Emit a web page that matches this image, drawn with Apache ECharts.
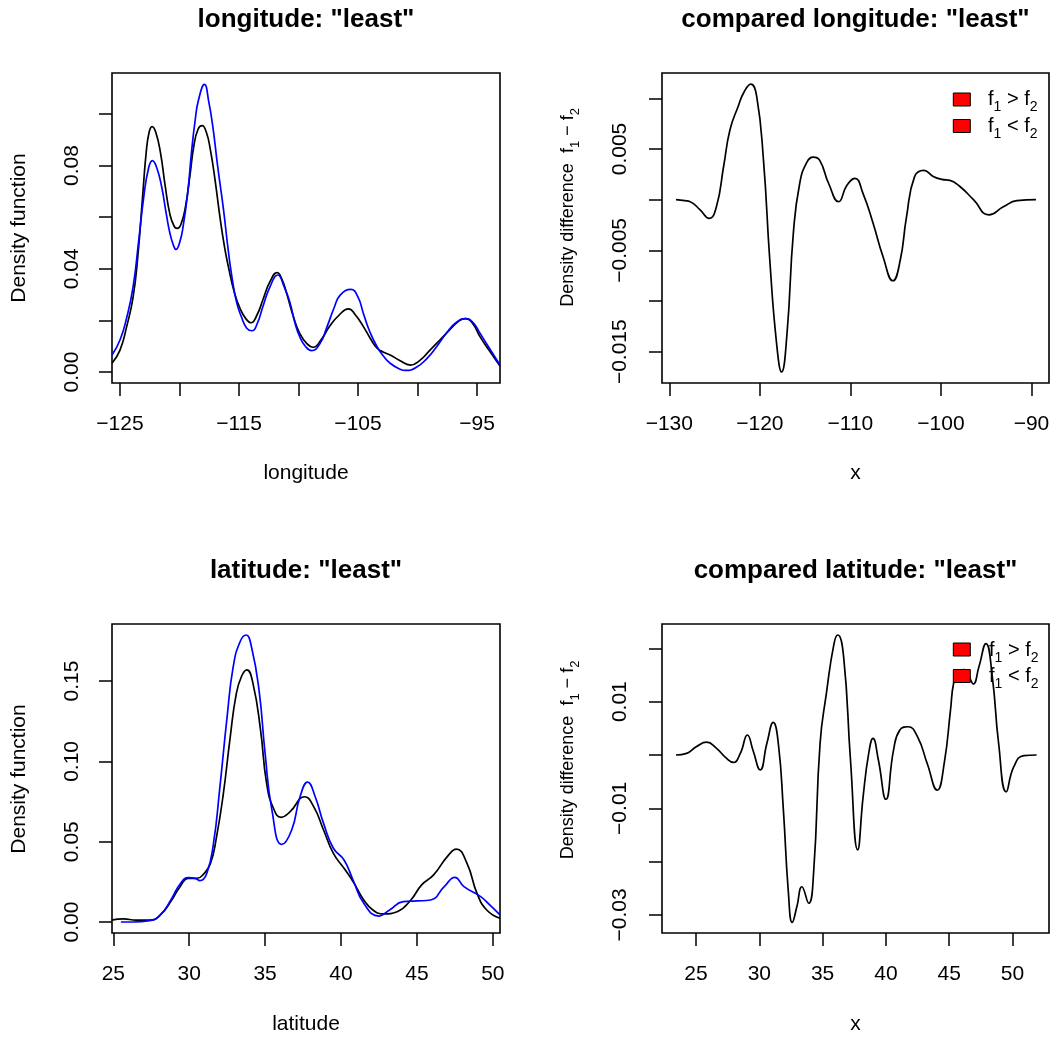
<!DOCTYPE html>
<html>
<head>
<meta charset="utf-8">
<script src="https://cdn.jsdelivr.net/npm/echarts@6/dist/echarts.min.js"></script>
<style>
  html, body { margin: 0; padding: 0; background: #ffffff; }
  #chart { width: 1053px; height: 1040px; }
</style>
</head>
<body>
<div id="chart"></div>
<script>
// ---- longitude: density of all records (black) and of the "least" group (blue)
const lonAllX   = [-125.67, -125.0, -124.44, -123.9, -123.5, -123.1, -122.8, -122.55, -122.3, -122.0, -121.6, -121.2, -120.8, -120.45, -120.2, -119.9, -119.5, -119.1, -118.8, -118.45, -118.1, -117.75, -117.4, -117.0, -116.6, -116.2, -115.9, -115.4, -114.9, -114.4, -114.0, -113.5, -113.0, -112.4, -111.8, -111.4, -111.0, -110.4, -109.9, -109.3, -108.75, -108.1, -107.4, -106.6, -105.8, -105.2, -104.55, -103.9, -103.4, -102.9, -102.3, -101.5, -100.6, -99.8, -98.95, -98.1, -97.3, -96.6, -96.0, -95.4, -94.75, -94.0, -93.07];
const lonAllY   = [0.0034, 0.0085, 0.0176, 0.029, 0.045, 0.068, 0.085, 0.093, 0.0951, 0.093, 0.085, 0.072, 0.061, 0.0565, 0.0557, 0.057, 0.064, 0.077, 0.0875, 0.094, 0.0955, 0.093, 0.086, 0.074, 0.060, 0.048, 0.041, 0.031, 0.0245, 0.0205, 0.0191, 0.022, 0.0279, 0.035, 0.0385, 0.036, 0.0305, 0.021, 0.015, 0.011, 0.0096, 0.0125, 0.0176, 0.022, 0.0245, 0.022, 0.0176, 0.0125, 0.0092, 0.0078, 0.0066, 0.0045, 0.0027, 0.0045, 0.0085, 0.0125, 0.0163, 0.0195, 0.0207, 0.019, 0.0137, 0.0085, 0.0023];
const lonLeastX = [-125.67, -125.0, -124.44, -123.9, -123.45, -123.0, -122.6, -122.28, -121.9, -121.5, -121.1, -120.8, -120.5, -120.3, -120.0, -119.7, -119.3, -119.0, -118.7, -118.4, -117.9, -117.55, -117.2, -116.8, -116.3, -115.9, -115.6, -115.2, -114.8, -114.35, -113.9, -113.45, -113.0, -112.4, -111.75, -111.2, -110.7, -110.3, -109.9, -109.4, -108.9, -108.2, -107.6, -107.0, -106.5, -105.6, -105.0, -104.55, -104.0, -103.4, -102.8, -102.3, -101.6, -101.0, -100.1, -99.2, -98.4, -97.55, -96.8, -95.95, -95.3, -94.75, -94.0, -93.07];
const lonLeastY = [0.0066, 0.0124, 0.021, 0.033, 0.050, 0.068, 0.079, 0.0819, 0.079, 0.0718, 0.061, 0.0537, 0.049, 0.0475, 0.050, 0.0563, 0.070, 0.0848, 0.097, 0.1055, 0.1115, 0.105, 0.0951, 0.080, 0.0628, 0.047, 0.037, 0.027, 0.0214, 0.017, 0.016, 0.019, 0.0253, 0.033, 0.0376, 0.033, 0.0266, 0.019, 0.0137, 0.0098, 0.0083, 0.011, 0.0176, 0.025, 0.0298, 0.032, 0.029, 0.0227, 0.0155, 0.0098, 0.0058, 0.0034, 0.0014, 0.0006, 0.0018, 0.0053, 0.0098, 0.0152, 0.019, 0.0207, 0.019, 0.015, 0.0095, 0.0027];

// ---- longitude: density difference f1 - f2
const lonDiffX = [-129.26, -128.3, -127.7, -126.6, -125.6, -124.8, -124.0, -123.3, -122.4, -121.76, -121.0, -120.35, -119.6, -118.9, -118.15, -117.6, -117.0, -116.3, -115.6, -114.8, -114.1, -113.4, -112.4, -111.3, -110.4, -109.5, -108.6, -107.5, -106.4, -105.3, -104.5, -103.8, -102.9, -101.9, -100.85, -99.9, -99.0, -97.9, -96.4, -94.7, -93.1, -91.6, -89.5];
const lonDiffY = [0, -0.0001, -0.0002, -0.0010, -0.00184, -0.0007, 0.0033, 0.0069, 0.0092, 0.0106, 0.0114, 0.0102, 0.0039, -0.0060, -0.0142, -0.0170, -0.0132, -0.0033, 0.0016, 0.0037, 0.0042, 0.0039, 0.0016, -0.0002, 0.0014, 0.0021, 0.0006, -0.0023, -0.0056, -0.0080, -0.0060, -0.0017, 0.0023, 0.0029, 0.0023, 0.0020, 0.0019, 0.0013, 0.0, -0.0015, -0.0007, -0.0001, 0];

// ---- latitude: density of all records (black) and of the "least" group (blue)
const latAllX   = [24.89, 25.66, 26.5, 27.4, 28.1, 28.85, 29.4, 29.95, 30.5, 30.9, 31.4, 31.8, 32.25, 32.7, 33.1, 33.45, 33.8, 34.2, 34.7, 35.1, 35.55, 36.05, 36.65, 37.6, 38.2, 38.85, 39.5, 40.2, 40.8, 41.5, 42.1, 42.8, 43.7, 44.6, 45.3, 46.1, 47.0, 47.6, 48.3, 48.96, 49.6, 50.47];
const latAllY   = [0.0012, 0.0019, 0.0012, 0.0012, 0.0044, 0.0137, 0.022, 0.0272, 0.0272, 0.0293, 0.0365, 0.053, 0.080, 0.115, 0.142, 0.153, 0.157, 0.1486, 0.1195, 0.0863, 0.0708, 0.0652, 0.0687, 0.078, 0.0718, 0.0573, 0.0427, 0.0334, 0.0251, 0.0137, 0.0075, 0.0050, 0.0064, 0.0137, 0.023, 0.0293, 0.0407, 0.0454, 0.0365, 0.0178, 0.0075, 0.0023];
const latLeastX = [25.5, 26.3, 27.4, 28.1, 28.85, 29.4, 29.95, 30.4, 30.7, 31.15, 31.6, 32.0, 32.5, 32.9, 33.35, 33.75, 34.1, 34.6, 35.0, 35.45, 36.1, 36.75, 37.3, 37.8, 38.3, 38.85, 39.5, 40.2, 40.8, 41.5, 42.5, 43.2, 44.1, 45.0, 45.9, 46.8, 47.5, 48.1, 49.2, 49.8, 50.47];
const latLeastY = [0, 0, 0.0008, 0.0044, 0.0147, 0.0237, 0.0276, 0.0272, 0.0257, 0.030, 0.049, 0.082, 0.128, 0.159, 0.1745, 0.1787, 0.1714, 0.1444, 0.105, 0.0697, 0.0483, 0.0573, 0.078, 0.0871, 0.078, 0.0614, 0.0459, 0.0386, 0.026, 0.0116, 0.0037, 0.0075, 0.0127, 0.0131, 0.0137, 0.022, 0.0278, 0.022, 0.0158, 0.0106, 0.0044];

// ---- latitude: density difference f1 - f2
const latDiffX = [23.42, 24.26, 25.05, 25.84, 26.6, 27.4, 27.95, 28.5, 29.06, 29.5, 30.07, 30.6, 31.1, 31.5, 31.9, 32.3, 32.6, 32.97, 33.36, 33.9, 34.3, 34.8, 35.3, 35.9, 36.2, 36.66, 37.2, 37.77, 38.2, 38.64, 38.98, 39.4, 40.0, 40.6, 41.1, 41.75, 42.5, 43.26, 44.05, 44.6, 45.1, 45.35, 45.7, 46.2, 46.6, 46.9, 47.35, 47.9, 48.4, 48.9, 49.5, 50.1, 50.9, 51.9];
const latDiffY = [0, 0.0003, 0.0016, 0.0024, 0.0013, -0.0006, -0.0014, 0.0003, 0.00375, 0.0009, -0.0028, 0.0022, 0.0061, 0.0022, -0.0103, -0.0259, -0.0314, -0.0284, -0.0247, -0.0278, -0.0216, 0.0022, 0.0116, 0.0209, 0.0225, 0.0184, -0.0009, -0.0178, -0.0078, 0.0003, 0.0031, -0.0009, -0.0083, 0.0009, 0.0047, 0.0053, 0.0034, -0.0016, -0.0066, -0.0016, 0.0084, 0.0135, 0.0155, 0.016, 0.0145, 0.0133, 0.0166, 0.0209, 0.0147, 0.0022, -0.0069, -0.0022, -0.0001, 0];

// ---- ticks and labels
const lonXTicks      = [-125, -120, -115, -110, -105, -100, -95];
const lonXLabels     = [-125, -115, -105, -95];
const lonYTicks      = [0, 0.02, 0.04, 0.06, 0.08, 0.10];
const lonYLabels     = [0, 0.04, 0.08];
const lonDiffXTicks  = [-130, -120, -110, -100, -90];
const lonDiffYTicks  = [-0.015, -0.01, -0.005, 0, 0.005, 0.01];
const lonDiffYLabels = [-0.015, -0.005, 0.005];
const latXTicks      = [25, 30, 35, 40, 45, 50];
const latYTicks      = [0, 0.05, 0.10, 0.15];
const latDiffYTicks  = [-0.03, -0.02, -0.01, 0, 0.01, 0.02];
const latDiffYLabels = [-0.03, -0.01, 0.01];

const FONT = "'Liberation Sans', Arial, Helvetica, sans-serif";
const pairs = (xs, ys) => xs.map((x, i) => [x, ys[i]]);
const fmt = digits => v => (v < 0 ? '\u2212' : '') + Math.abs(v).toFixed(digits);

function xAxisOf(idx, min, max, ticks, labels, digits) {
  return {
    type: 'value', gridIndex: idx, min: min, max: max, position: 'bottom',
    axisLine: { show: false, onZero: false },
    splitLine: { show: false },
    axisTick: { show: true, inside: false, length: 13, customValues: ticks,
                lineStyle: { color: '#000', width: 1.5 } },
    axisLabel: { show: true, customValues: labels, margin: 31, hideOverlap: false,
                 fontSize: 21, color: '#000', fontFamily: FONT, formatter: fmt(digits) }
  };
}
function yAxisOf(idx, min, max, ticks, labels, digits, margin) {
  return {
    type: 'value', gridIndex: idx, min: min, max: max, position: 'left',
    axisLine: { show: false, onZero: false },
    splitLine: { show: false },
    axisTick: { show: true, inside: false, length: 13, customValues: ticks,
                lineStyle: { color: '#000', width: 1.5 } },
    axisLabel: { show: true, customValues: labels, margin: margin, rotate: 90, hideOverlap: false,
                 fontSize: 21, color: '#000', fontFamily: FONT, formatter: fmt(digits) }
  };
}
function curve(idx, xs, ys, color) {
  return {
    type: 'line', xAxisIndex: idx, yAxisIndex: idx,
    data: pairs(xs, ys), showSymbol: false, symbol: 'none',
    smooth: 0.5,
    lineStyle: { color: color, width: 1.7 }, itemStyle: { color: color },
    silent: true, animation: false
  };
}

const gridStyle = { show: true, borderColor: '#000', borderWidth: 1.6, backgroundColor: 'transparent' };

// text helpers for titles, axis titles and the legend
function label(text, x, y, size, bold, rot) {
  return { type: 'text', x: x, y: y, rotation: rot || 0, z: 100,
           style: { text: text, fill: '#000', align: 'center', verticalAlign: 'middle',
                    font: (bold ? 'bold ' : '') + size + 'px ' + FONT } };
}
function mathLabel(text, x, y, size, rot, align) {
  return { type: 'text', x: x, y: y, rotation: rot || 0, z: 100,
           style: { text: text, align: align || 'center', verticalAlign: 'middle',
                    rich: {
                      n: { fontSize: size, fontFamily: FONT, fill: '#000', color: '#000', lineHeight: size + 10 },
                      s: { fontSize: Math.round(size * 0.72), fontFamily: FONT, fill: '#000', color: '#000',
                           lineHeight: Math.round(size * 0.72) + 1, verticalAlign: 'bottom' }
                    } } };
}
function legendBox(x, y) {
  return { type: 'rect', z: 100, shape: { x: x, y: y, width: 17, height: 13 },
           style: { fill: '#ff0000', stroke: '#000', lineWidth: 1 } };
}

const diffName = '{n|Density difference  f}{s|1}{n| \u2212 f}{s|2}';
const gtName = '{n|f}{s|1}{n| > f}{s|2}';
const ltName = '{n|f}{s|1}{n| < f}{s|2}';

const option = {
  backgroundColor: '#ffffff',
  animation: false,
  grid: [
    Object.assign({ left: 112, top: 73, width: 388, height: 310 }, gridStyle),
    Object.assign({ left: 662, top: 73, width: 387, height: 310 }, gridStyle),
    Object.assign({ left: 112, top: 624, width: 388, height: 309 }, gridStyle),
    Object.assign({ left: 662, top: 624, width: 387, height: 309 }, gridStyle)
  ],
  xAxis: [
    xAxisOf(0, -125.672, -93.07, lonXTicks, lonXLabels, 0),
    xAxisOf(1, -130.81, -88.06, lonDiffXTicks, lonDiffXTicks, 0),
    xAxisOf(2, 24.914, 50.474, latXTicks, latXTicks, 0),
    xAxisOf(3, 22.314, 52.88, latXTicks, latXTicks, 0)
  ],
  yAxis: [
    yAxisOf(0, -0.00426, 0.11589, lonYTicks, lonYLabels, 2, 29),
    yAxisOf(1, -0.018088, 0.012502, lonDiffYTicks, lonDiffYLabels, 3, 31),
    yAxisOf(2, -0.00685, 0.18555, latYTicks, latYTicks, 2, 29),
    yAxisOf(3, -0.033377, 0.024564, latDiffYTicks, latDiffYLabels, 2, 31)
  ],
  series: [
    curve(0, lonAllX, lonAllY, '#000000'),
    curve(0, lonLeastX, lonLeastY, '#0000ff'),
    curve(1, lonDiffX, lonDiffY, '#000000'),
    curve(2, latAllX, latAllY, '#000000'),
    curve(2, latLeastX, latLeastY, '#0000ff'),
    curve(3, latDiffX, latDiffY, '#000000')
  ],
  graphic: [
    label('longitude: "least"', 306, 20, 26, true),
    label('compared longitude: "least"', 855.5, 20, 26, true),
    label('latitude: "least"', 306, 571, 26, true),
    label('compared latitude: "least"', 855.5, 571, 26, true),
    label('longitude', 306, 473, 21, false),
    label('x', 855.5, 473, 21, false),
    label('latitude', 306, 1024, 21, false),
    label('x', 855.5, 1024, 21, false),
    label('Density function', 19, 228, 21, false, Math.PI / 2),
    label('Density function', 19, 779, 21, false, Math.PI / 2),
    mathLabel(diffName, 568, 207.5, 18, Math.PI / 2),
    mathLabel(diffName, 568, 760, 18, Math.PI / 2),
    legendBox(953.3, 93), legendBox(953.3, 119.5),
    mathLabel(gtName, 988, 99.5, 20, 0, 'left'),
    mathLabel(ltName, 988, 126, 20, 0, 'left'),
    legendBox(953.3, 643), legendBox(953.3, 669.5),
    mathLabel(gtName, 989, 650, 20, 0, 'left'),
    mathLabel(ltName, 989, 676.5, 20, 0, 'left')
  ]
};

const chart = echarts.init(document.getElementById('chart'), null, { renderer: 'canvas' });
chart.setOption(option);
</script>
</body>
</html>
